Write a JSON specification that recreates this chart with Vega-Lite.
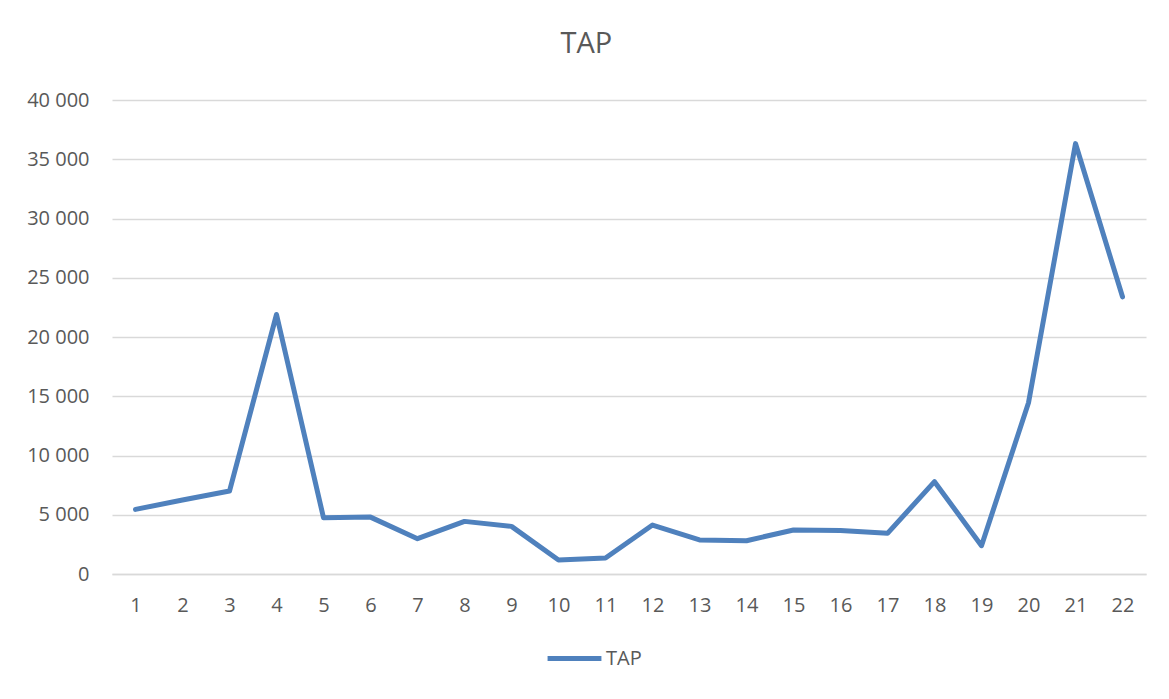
{
  "$schema": "https://vega.github.io/schema/vega-lite/v6.json",
  "autosize": {"type": "none"},
  "width": 1034,
  "height": 474,
  "padding": {"left": 112, "top": 100, "right": 23, "bottom": 125},
  "background": "#ffffff",
  "config": {
    "locale": {"number": {"decimal": ",", "thousands": " ", "grouping": [3], "currency": ["", " €"]}},
    "font": "Open Sans",
    "view": {"stroke": null},
    "axis": {"labelColor": "#595959", "labelFontSize": 20, "labelFont": "Open Sans", "ticks": false, "title": null}
  },
  "title": {
    "text": "TAP",
    "fontSize": 29,
    "fontWeight": "normal",
    "color": "#595959",
    "font": "Open Sans",
    "anchor": "middle",
    "frame": "bounds",
    "offset": 31
  },
  "data": {
    "values": [
      {"n": 1, "tap": 5450, "series": "TAP"},
      {"n": 2, "tap": 6250, "series": "TAP"},
      {"n": 3, "tap": 7000, "series": "TAP"},
      {"n": 4, "tap": 21900, "series": "TAP"},
      {"n": 5, "tap": 4750, "series": "TAP"},
      {"n": 6, "tap": 4800, "series": "TAP"},
      {"n": 7, "tap": 2980, "series": "TAP"},
      {"n": 8, "tap": 4440, "series": "TAP"},
      {"n": 9, "tap": 4020, "series": "TAP"},
      {"n": 10, "tap": 1180, "series": "TAP"},
      {"n": 11, "tap": 1350, "series": "TAP"},
      {"n": 12, "tap": 4130, "series": "TAP"},
      {"n": 13, "tap": 2870, "series": "TAP"},
      {"n": 14, "tap": 2810, "series": "TAP"},
      {"n": 15, "tap": 3710, "series": "TAP"},
      {"n": 16, "tap": 3680, "series": "TAP"},
      {"n": 17, "tap": 3430, "series": "TAP"},
      {"n": 18, "tap": 7790, "series": "TAP"},
      {"n": 19, "tap": 2390, "series": "TAP"},
      {"n": 20, "tap": 14450, "series": "TAP"},
      {"n": 21, "tap": 36320, "series": "TAP"},
      {"n": 22, "tap": 23390, "series": "TAP"}
    ]
  },
  "mark": {"type": "line", "strokeWidth": 5, "strokeCap": "round", "strokeJoin": "round"},
  "encoding": {
    "x": {
      "field": "n",
      "type": "ordinal",
      "scale": {"type": "point", "padding": 0.5},
      "axis": {"labelAngle": 0, "labelPadding": 21, "domain": true, "domainColor": "#d9d9d9", "domainWidth": 1.5, "grid": false}
    },
    "y": {
      "field": "tap",
      "type": "quantitative",
      "scale": {"domain": [0, 40000], "nice": false},
      "axis": {"values": [0, 5000, 10000, 15000, 20000, 25000, 30000, 35000, 40000], "format": ",d", "labelPadding": 23, "domain": false, "grid": true, "gridColor": "#d9d9d9", "gridWidth": 1.5}
    },
    "color": {
      "field": "series",
      "type": "nominal",
      "scale": {"range": ["#4f81bd"]},
      "legend": {
        "title": null,
        "orient": "none",
        "legendX": 433,
        "legendY": 529,
        "direction": "horizontal",
        "symbolType": "stroke",
        "symbolSize": 2900,
        "symbolStrokeWidth": 5,
        "labelFontSize": 20,
        "labelColor": "#595959",
        "labelFont": "Open Sans",
        "labelOffset": 2
      }
    }
  }
}
